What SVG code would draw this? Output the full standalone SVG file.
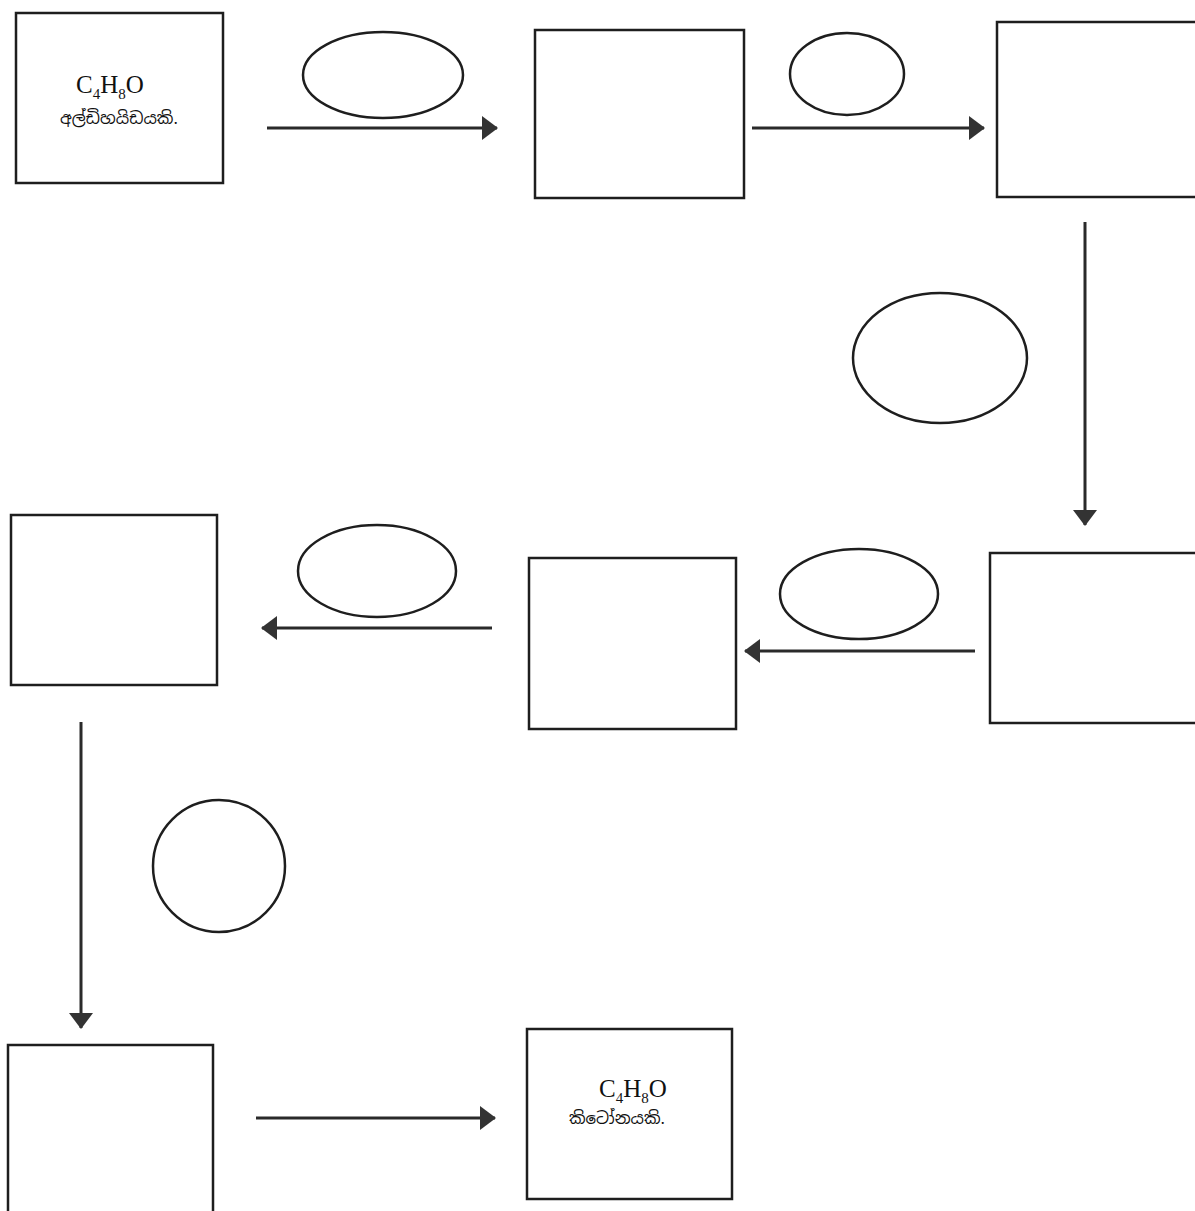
<svg xmlns="http://www.w3.org/2000/svg" width="1195" height="1211" viewBox="0 0 1195 1211">
<style>
.box{fill:none;stroke:#1e1e1e;stroke-width:2.5}
.ell{fill:none;stroke:#1e1e1e;stroke-width:2.5}
.conn{fill:none;stroke:#2a2a2a;stroke-width:3}
.f{font-family:"Liberation Serif","Times New Roman",serif;font-size:25px;fill:#111}
.sub{font-size:15px}
.si{font-family:"Noto Sans Sinhala","Noto Serif Sinhala","Iskoola Pota","Liberation Serif",serif;font-size:16.5px;fill:#111}
</style>
<defs>
<marker id="ah" markerUnits="userSpaceOnUse" viewBox="0 0 16 24" refX="15" refY="12" markerWidth="16" markerHeight="24" orient="auto">
<path d="M0,0 L16,12 L0,24 z" fill="#333"/>
</marker>
</defs>
<rect width="1195" height="1211" fill="#ffffff"/>
<g id="node-aldehyde">
<rect class="box" x="16" y="13" width="207" height="170"/>
<text class="f" x="110" y="93" text-anchor="middle">C<tspan class="sub" dy="6">4</tspan><tspan dy="-6">H</tspan><tspan class="sub" dy="6">8</tspan><tspan dy="-6">O</tspan></text>
<text class="si" x="119" y="124" text-anchor="middle">අල්ඩිහයිඩයකි.</text>
</g>
<g id="node-b"><rect class="box" x="535" y="30" width="209" height="168"/></g>
<g id="node-c"><rect class="box" x="997" y="22" width="210" height="175"/></g>
<g id="node-d"><rect class="box" x="990" y="553" width="215" height="170"/></g>
<g id="node-e"><rect class="box" x="529" y="558" width="207" height="171"/></g>
<g id="node-f"><rect class="box" x="11" y="515" width="206" height="170"/></g>
<g id="node-g"><rect class="box" x="8" y="1045" width="205" height="180"/></g>
<g id="node-ketone">
<rect class="box" x="527" y="1029" width="205" height="170"/>
<text class="f" x="633" y="1097" text-anchor="middle">C<tspan class="sub" dy="6">4</tspan><tspan dy="-6">H</tspan><tspan class="sub" dy="6">8</tspan><tspan dy="-6">O</tspan></text>
<text class="si" x="617" y="1124" text-anchor="middle">කිටෝනයකි.</text>
</g>
<g id="reagent-1"><ellipse class="ell" cx="383" cy="75" rx="80" ry="43"/></g>
<g id="reagent-2"><ellipse class="ell" cx="847" cy="74" rx="57" ry="41"/></g>
<g id="reagent-3"><ellipse class="ell" cx="940" cy="358" rx="87" ry="65"/></g>
<g id="reagent-4"><ellipse class="ell" cx="859" cy="594" rx="79" ry="45"/></g>
<g id="reagent-5"><ellipse class="ell" cx="377" cy="571" rx="79" ry="46"/></g>
<g id="reagent-6"><ellipse class="ell" cx="219" cy="866" rx="66" ry="66"/></g>
<g id="connectors">
<line class="conn" x1="267" y1="128" x2="497" y2="128" marker-end="url(#ah)"/>
<line class="conn" x1="752" y1="128" x2="984" y2="128" marker-end="url(#ah)"/>
<line class="conn" x1="1085" y1="222" x2="1085" y2="525" marker-end="url(#ah)"/>
<line class="conn" x1="975" y1="651" x2="745" y2="651" marker-end="url(#ah)"/>
<line class="conn" x1="492" y1="628" x2="262" y2="628" marker-end="url(#ah)"/>
<line class="conn" x1="81" y1="722" x2="81" y2="1028" marker-end="url(#ah)"/>
<line class="conn" x1="256" y1="1118" x2="495" y2="1118" marker-end="url(#ah)"/>
</g>
</svg>
